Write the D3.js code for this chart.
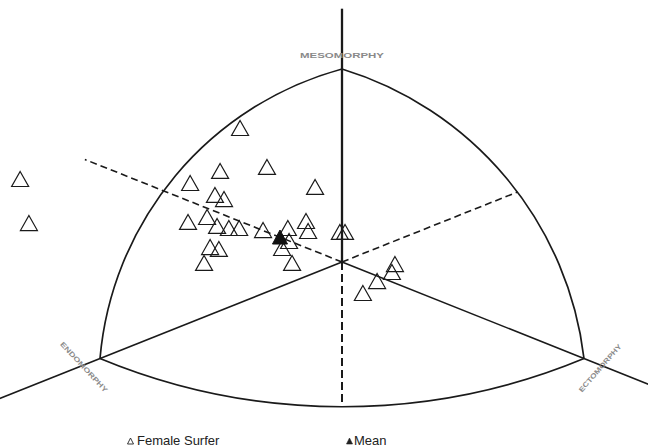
<!DOCTYPE html>
<html>
<head>
<meta charset="utf-8">
<script src="https://cdn.jsdelivr.net/npm/d3@7"></script>
<style>
  body { margin: 0; background: #fff; }
  svg { display: block; font-family: "Liberation Sans", Arial, sans-serif; }
</style>
</head>
<body>
<svg width="648" height="448"></svg>
<script>
// somatochart coordinates: X = ecto - endo, Y = 2*meso - (endo + ecto)
var surferX = [-10.64, -10.35, -3.37, -4.03, -2.48, -5.02, -0.89, -4.20, -3.90, -5.09,
               -4.46, -4.13, -3.74, -3.40, -2.61, -1.79, -1.19, -1.12, -1.75, -1.98,
               -1.65, -4.36, -4.07, -4.56, -0.07, 0.10, 1.75, 1.65, 1.16, 0.69];
var surferY = [6.88, 3.23, 11.11, 7.55, 7.88, 6.55, 6.22, 5.56, 5.22, 3.32,
               3.73, 2.99, 2.82, 2.82, 2.65, 2.82, 3.40, 2.57, 1.74, 1.16,
               -0.08, 1.24, 1.08, -0.08, 2.49, 2.49, -0.17, -0.83, -1.58, -2.57];
var meanX = [-2.05];
var meanY = [2.07];

// chart frame (vertices and arc mid points)
var vertexNames = ["MESOMORPHY", "ENDOMORPHY", "ECTOMORPHY"];
var vertices = [[0, 16], [-8, -8], [8, -8]];
var arcMids = [[-5.9, 5.9], [0, -12], [5.8, 5.8]];
var legendLabels = ["Female Surfer", "Mean"];

var svg = d3.select("svg");
var x = d3.scaleLinear().domain([-8, 8]).range([100, 584]);
var y = d3.scaleLinear().domain([-8, 16]).range([358.5, 69]);

var line = d3.line().x(function (d) { return x(d[0]); }).y(function (d) { return y(d[1]); });

function arcPath(a, m, b) {
    var ax = x(a[0]), ay = y(a[1]), bx = x(m[0]), by = y(m[1]), cx = x(b[0]), cy = y(b[1]);
    var d = 2 * (ax * (by - cy) + bx * (cy - ay) + cx * (ay - by));
    var ux = ((ax * ax + ay * ay) * (by - cy) + (bx * bx + by * by) * (cy - ay) + (cx * cx + cy * cy) * (ay - by)) / d;
    var uy = ((ax * ax + ay * ay) * (cx - bx) + (bx * bx + by * by) * (ax - cx) + (cx * cx + cy * cy) * (bx - ax)) / d;
    var r = Math.hypot(ax - ux, ay - uy);
    var a1 = Math.atan2(ay - uy, ax - ux), am = Math.atan2(by - uy, bx - ux), a2 = Math.atan2(cy - uy, cx - ux);
    var norm = function (t) { return ((t - a1) % (2 * Math.PI) + 2 * Math.PI) % (2 * Math.PI); };
    var inc = norm(am) < norm(a2);
    var p = d3.path();
    p.moveTo(ax, ay);
    p.arc(ux, uy, r, a1, a2, !inc);
    return p.toString();
}

var frame = svg.append("g").style("fill", "none").style("stroke", "#1a1a1a");

// arcs
frame.append("path").attr("d", arcPath(vertices[0], arcMids[0], vertices[1])).style("stroke-width", 1.7);
frame.append("path").attr("d", arcPath(vertices[1], arcMids[1], vertices[2])).style("stroke-width", 1.7);
frame.append("path").attr("d", arcPath(vertices[0], arcMids[2], vertices[2])).style("stroke-width", 1.7);

// axes through the centre
frame.append("path").attr("d", line([[0, 0], [0, 21]])).style("stroke-width", 2.3);
frame.append("path").attr("d", line([[0, 0], [0, -12]])).style("stroke-width", 2).style("stroke-dasharray", "8,4");
frame.append("path").attr("d", line([[0, 0], [-11.4, -11.4]])).style("stroke-width", 1.6);
frame.append("path").attr("d", line([[0, 0], [10.6, -10.6]])).style("stroke-width", 1.6);
frame.append("path").attr("d", line([[0, 0], [-8.5, 8.5]])).style("stroke-width", 1.6).style("stroke-dasharray", "7,4");
frame.append("path").attr("d", line([[0, 0], [5.8, 5.8]])).style("stroke-width", 1.6).style("stroke-dasharray", "7,4");

// vertex labels
var labelPos = [[342, 55, 0, 84], [84, 367, 47, 66], [600, 368, -49, 61]];
svg.selectAll(".vlabel").data(vertexNames).enter().append("text")
    .attr("class", "vlabel")
    .attr("transform", function (d, i) { return "translate(" + labelPos[i][0] + "," + labelPos[i][1] + ") rotate(" + labelPos[i][2] + ")"; })
    .attr("text-anchor", "middle").attr("dominant-baseline", "central")
    .attr("textLength", function (d, i) { return labelPos[i][3]; })
    .attr("lengthAdjust", "spacingAndGlyphs")
    .style("font-size", "7px").style("font-weight", "bold").style("fill", "#8a8a8a")
    .text(function (d) { return d; });

function tri(w, h) {
    return "M0," + (-h / 2) + "L" + (w / 2) + "," + (h / 2) + "L" + (-w / 2) + "," + (h / 2) + "Z";
}

// surfers
svg.selectAll(".surfer").data(surferX).enter().append("path")
    .attr("class", "surfer")
    .attr("transform", function (d, i) { return "translate(" + x(d) + "," + y(surferY[i]) + ")"; })
    .attr("d", tri(17, 15))
    .style("fill", "none").style("stroke", "#1a1a1a").style("stroke-width", 1.2);

// mean
svg.selectAll(".mean").data(meanX).enter().append("path")
    .attr("class", "mean")
    .attr("transform", function (d, i) { return "translate(" + x(d) + "," + y(meanY[i]) + ")"; })
    .attr("d", tri(15, 14))
    .style("fill", "#111").style("stroke", "#111").style("stroke-width", 1);

// legend
var legend = svg.append("g");
legend.append("path").attr("transform", "translate(130.5,441)").attr("d", tri(6, 6))
    .style("fill", "none").style("stroke", "#222").style("stroke-width", 0.9);
legend.append("text").attr("x", 137).attr("y", 445).style("font-size", "13px").style("fill", "#222").text(legendLabels[0]);
legend.append("path").attr("transform", "translate(349.5,441)").attr("d", tri(6, 6))
    .style("fill", "#222").style("stroke", "#222").style("stroke-width", 0.6);
legend.append("text").attr("x", 354).attr("y", 445).style("font-size", "13px").style("fill", "#222").text(legendLabels[1]);
</script>
</body>
</html>
